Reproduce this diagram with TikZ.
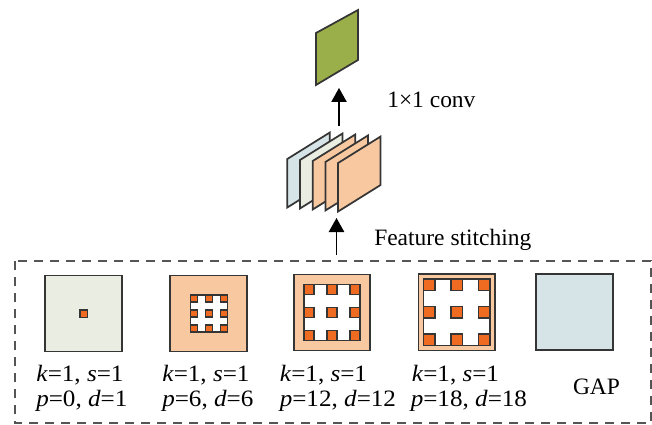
\documentclass[tikz,border=0pt]{standalone}
\usepackage{fontspec}
\setmainfont{Liberation Serif}
\newfontfamily\labfont{Liberation Serif}[FakeStretch=1.07]
\usetikzlibrary{arrows.meta}
\definecolor{edgec}{HTML}{353535}
\definecolor{greenf}{HTML}{9AAE4A}
\definecolor{bluef}{HTML}{D6E4E7}
\definecolor{paleg}{HTML}{EAEDE1}
\definecolor{orangef}{HTML}{F8C9A0}
\definecolor{dotf}{HTML}{EF6B22}
\definecolor{dashc}{HTML}{555555}
\newcommand{\dotgrid}[5]{%
  \foreach \i in {0,1,2}{\foreach \j in {0,1,2}{%
    \pgfmathsetmacro\xx{#1+(#3-#1-#5)*\i/2}%
    \pgfmathsetmacro\yy{#2+(#4-#2-#5)*\j/2}%
    \draw[dotsq] (\xx,\yy) rectangle ++(#5,#5);
  }}}
\begin{document}
\begin{tikzpicture}[x=0.75pt,y=-0.75pt,
  panel/.style={draw=edgec,line width=1.3pt,line join=miter},
  bigsq/.style={draw=edgec,line width=1.3pt},
  dotsq/.style={draw=edgec,fill=dotf,line width=0.8pt},
  txt/.style={font=\fontsize{17.6pt}{20pt}\selectfont,inner sep=0pt},
  lab/.style={font=\fontsize{17.6pt}{20pt}\selectfont\labfont,inner sep=0pt,anchor=base west},
  arr/.style={line width=1pt,-{Triangle[width=11.5pt,length=10.5pt]}},
  dashbox/.style={draw=dashc,line width=1.4pt,dash pattern=on 7pt off 5pt}]
\useasboundingbox (0,0) rectangle (652,424);
\fill[white] (0,0) rectangle (652,424);

% dashed container
\draw[dashbox] (15,261) rectangle (651,423);

% green output map
\draw[panel,fill=greenf] (316,33) -- (358,10) -- (358,60) -- (316,85) -- cycle;
\coordinate (greenbot) at (339,88);

% stacked feature maps
\foreach \k/\c in {0/bluef,1/paleg,2/orangef,3/orangef,4/orangef}{
  \pgfmathsetmacro\lx{287.3+12.7*\k}
  \pgfmathsetmacro\ly{159+1*\k}
  \draw[panel,fill=\c] (\lx,\ly) -- ++(42.5,-26.5) -- ++(0,48.5) -- ++(-42.5,26.5) -- cycle;
}
\coordinate (stacktop) at (339,126);
\coordinate (stackbot) at (336.5,218);
\coordinate (boxtop) at (336.5,255);

% arrows
\draw[arr] (stacktop) -- (greenbot);
\draw[arr] (boxtop) -- (stackbot);

\node[txt,anchor=base west] (conv) at (387,108) {1×1 conv};
\node[txt,anchor=base west] (stitch) at (374,245.7) {Feature stitching};

% branch 1
\draw[bigsq,fill=paleg] (45,275.5) rectangle (122,351.5);
\draw[dotsq] (80,310) rectangle (87.5,317.5);
% branch 2
\draw[bigsq,fill=orangef] (170,275.5) rectangle (247,351.5);
\draw[bigsq,fill=white,line width=1pt] (190.5,295) rectangle (227.5,332);
\dotgrid{190.5}{295}{227.5}{332}{7}
% branch 3
\draw[bigsq,fill=orangef] (294,274.5) rectangle (370,350.5);
\draw[bigsq,fill=white,line width=1pt] (304,284.5) rectangle (360,340.5);
\dotgrid{304}{284.5}{360}{340.5}{10}
% branch 4
\draw[bigsq,fill=orangef] (418.5,274) rectangle (495,350.5);
\draw[bigsq,fill=white,line width=1pt] (423.5,279) rectangle (490,345.5);
\dotgrid{423.5}{279}{490}{345.5}{11.5}
% GAP
\draw[bigsq,fill=bluef] (536,274) rectangle (613,350);

% labels
\node[lab] (k1) at (36,381.5) {\textit{k}=1, \textit{s}=1};
\node[lab] (p1) at (36,406.5) {\textit{p}=0, \textit{d}=1};
\node[lab] (k2) at (162,381.5) {\textit{k}=1, \textit{s}=1};
\node[lab] (p2) at (162,406.5) {\textit{p}=6, \textit{d}=6};
\node[lab] (k3) at (279.5,381.5) {\textit{k}=1, \textit{s}=1};
\node[lab] (p3) at (279.5,406.5) {\textit{p}=12, \textit{d}=12};
\node[lab] (k4) at (411.5,381.5) {\textit{k}=1, \textit{s}=1};
\node[lab] (p4) at (410.5,406.5) {\textit{p}=18, \textit{d}=18};
\node[txt,anchor=base] (gap) at (596.5,394) {GAP};
\end{tikzpicture}
\end{document}
